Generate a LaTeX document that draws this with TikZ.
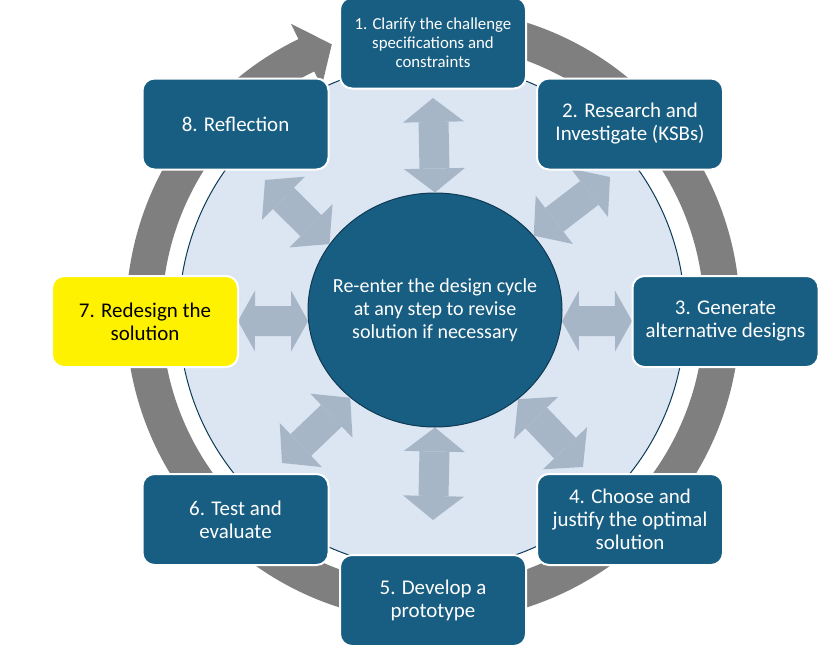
\documentclass[tikz,border=0pt]{standalone}
\usepackage{fontspec}
\setmainfont{Carlito}
\usetikzlibrary{shapes.geometric,arrows.meta}

\definecolor{stepblue}{RGB}{24,94,130}
\definecolor{hubline}{RGB}{14,58,85}
\definecolor{discblue}{RGB}{220,230,242}
\definecolor{linkgray}{RGB}{167,182,198}
\definecolor{ringgray}{RGB}{127,127,127}

\tikzset{
	stage/.style={rectangle, rounded corners=9pt, fill=stepblue, draw=white, line width=1.5pt,
		minimum width=139.5pt, minimum height=68.25pt, inner sep=2pt, align=center,
		text=white, font=\fontsize{15.7}{17.25}\selectfont},
	hubdisc/.style={ellipse, fill=stepblue, draw=hubline, line width=0.75pt,
		minimum width=190.5pt, minimum height=175.5pt, inner sep=0pt},
	hubtext/.style={align=center, text=white, font=\fontsize{15}{17.25}\selectfont},
	link/.style={draw=linkgray, line width=22.5pt,
		{Triangle[length=#1, width=45.75pt, line width=0pt]}-{Triangle[length=#1, width=45.75pt, line width=0pt]}}
}

\begin{document}
\begin{tikzpicture}[x=0.75pt, y=0.75pt]
	\useasboundingbox (0,0) rectangle (832,-646);

	\fill[ringgray, shift={(433,-315)}] (80:307) arc[start angle=80, end angle=-244, radius=307]
		-- (-244:324) -- (-249.5:289) -- (-244:254) -- (-244:271)
		arc[start angle=-244, end angle=80, radius=271] -- cycle;
	\filldraw[fill=discblue, draw=hubline, line width=0.75pt] (432,-316) circle[radius=253];

	\node[hubdisc] (hub) at (435,-310) {};
	\node[hubtext] (hubtext) at (hub.center) {Re-enter the design cycle\\at any step to revise\\solution if necessary};

	\coordinate (e1) at (433,-98);
	\coordinate (e2) at (610,-177);
	\coordinate (e3) at (632,-321);
	\coordinate (e4) at (583,-467);
	\coordinate (e5) at (433,-520);
	\coordinate (e6) at (282,-463);
	\coordinate (e7) at (238,-321);
	\coordinate (e8) at (265,-180);

	\foreach \i/\a/\h in {1/90/18pt, 2/37/19.5pt, 3/355/12.75pt, 4/313/19.5pt,
		5/270/18pt, 6/226/19.5pt, 7/185/12.75pt, 8/148/19.5pt}
	{
		\draw[link=\h] (hub.\a) -- (e\i);
	};

	\node[stage, font=\fontsize{12.6}{14.25}\selectfont] (s1) at (433,-43) {1. Clarify the challenge\\specifications and\\constraints};
	\node[stage] (s2) at (630,-124) {2. Research and\\Investigate (KSBs)};
	\node[stage] (s3) at (725.5,-321.5) {3. Generate\\alternative designs};
	\node[stage] (s4) at (630,-519.5) {4. Choose and\\justify the optimal\\solution};
	\node[stage] (s5) at (433,-600.5) {5. Develop a\\prototype};
	\node[stage] (s6) at (235.5,-519.5) {6. Test and\\evaluate};
	\node[stage, fill=yellow, text=black] (s7) at (145,-321.5) {7. Redesign the\\solution};
	\node[stage] (s8) at (235.5,-124) {8. Reflection};
\end{tikzpicture}
\end{document}
